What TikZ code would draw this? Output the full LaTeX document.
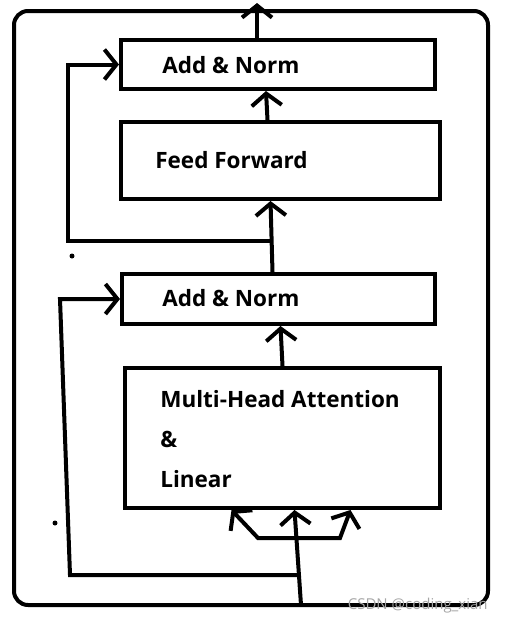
\documentclass[tikz,border=0pt]{standalone}
\usepackage{fontspec}
\setmainfont{Open Sans}[BoldFont={Open Sans Bold}]
\usetikzlibrary{arrows.meta}
\begin{document}
\begin{tikzpicture}[x=1pt,y=-1pt,line width=4pt,
  box/.style={draw,minimum width=#1},
  lbl/.style={anchor=west,font=\fontsize{22.5}{40}\selectfont\bfseries,align=left},
  arr/.style={-{Straight Barb[length=12pt,width=30pt]}}]
\useasboundingbox (0,0) rectangle (507,624);
% frame
\draw[rounded corners=14pt] (14,11) rectangle (488,605);
% blocks
\node[box=314pt,minimum height=49pt] (an2) at (278,64.5) {};
\node[box=319pt,minimum height=77pt] (ff) at (280.5,160.5) {};
\node[box=313pt,minimum height=50pt] (an1) at (278.5,299) {};
\node[box=315pt,minimum height=140pt] (mha) at (282.5,438) {};
\node[lbl] (an2txt) at (157,65) {Add \& Norm};
\node[lbl] (fftxt) at (150,160) {Feed Forward};
\node[lbl] (an1txt) at (157,298) {Add \& Norm};
\node[lbl] (mhatxt) at (155,439) {Multi-Head Attention\\\&\\Linear};
% connectors
\coordinate (out) at (257,3);
\coordinate (in) at (301,605);
\coordinate (r2) at (270,241);
\coordinate (r1) at (297,575);
\draw[arr] (out |- an2.north) -- (out);
\draw[arr] ([xshift=-13pt]ff.north) -- ([xshift=-12pt]an2.south);
\draw[arr] ([xshift=-6pt]an1.north) -- ([xshift=-10pt]ff.south);
\draw[arr] (r2) -- ++(-202,0) |- (an2.west);
\draw[arr] (mha.north) -- ([xshift=2pt]an1.south);
\draw[arr] (in) -- ([xshift=12pt]mha.south);
\draw[{Straight Barb[length=12pt,width=30pt]}-{Straight Barb[length=12pt,width=30pt]}]
  ([xshift=-51pt]mha.south) -- (258,538) -- (340,538) -- ([xshift=68pt]mha.south);
\draw[arr] (r1) -- (70,575) -- (60,299) -- (an1.west);
% stray dots
\fill (72,256) circle (2.5);
\fill (55,523) circle (2.5);
\node[anchor=east,text=black!35,font=\fontsize{15}{15}\selectfont] (mark) at (493,606) {CSDN @coding\_xian};
\end{tikzpicture}
\end{document}
